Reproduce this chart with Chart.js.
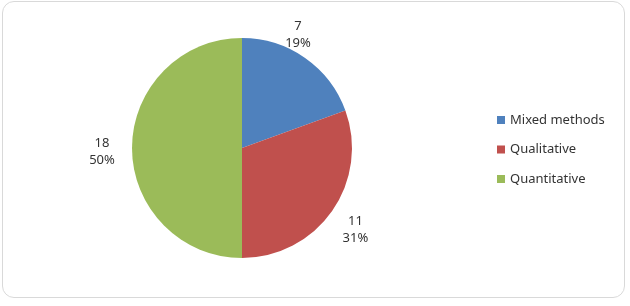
<!DOCTYPE html>
<html>
<head>
<meta charset="utf-8">
<script src="https://cdn.jsdelivr.net/npm/chart.js@4"></script>
<style>
  html, body { margin: 0; padding: 0; background: #fff; }
  #wrap { position: relative; width: 630px; height: 306px; }
  #frame {
    position: absolute; left: 2px; top: 1px; width: 621px; height: 295px;
    border: 1px solid #d9d9d9; border-radius: 12px; pointer-events: none;
  }
  canvas { position: absolute; left: 0; top: 0; }
</style>
</head>
<body>
<div id="wrap">
  <canvas id="chart" width="630" height="306"></canvas>
  <div id="frame"></div>
</div>
<script>
const categories = ['Mixed methods', 'Qualitative', 'Quantitative'];
const counts = [7, 11, 18];
const percents = ['19%', '31%', '50%'];
const colors = ['#4F81BD', '#C0504D', '#9BBB59'];

const FONT = '"Noto Sans", sans-serif';
const TEXT = '#333333';

// value + percent labels outside each slice
const outsideLabels = {
  id: 'outsideLabels',
  afterDatasetsDraw(chart, args, opts) {
    const ctx = chart.ctx;
    const meta = chart.getDatasetMeta(0);
    ctx.save();
    ctx.font = '13px ' + FONT;
    ctx.fillStyle = TEXT;
    ctx.textAlign = 'center';
    ctx.textBaseline = 'middle';
    meta.data.forEach((arc, i) => {
      const mid = (arc.startAngle + arc.endAngle) / 2;
      const d = arc.outerRadius + 26;
      const nudge = opts.nudge[i] || [0, 0];
      const x = arc.x + Math.cos(mid) * d + nudge[0];
      const y = arc.y + Math.sin(mid) * d + nudge[1];
      ctx.fillText(String(counts[i]), x, y - 8.5);
      ctx.fillText(percents[i], x, y + 8.5);
    });
    ctx.restore();
  }
};

// legend on the right, drawn by hand for exact spacing
const sideLegend = {
  id: 'sideLegend',
  afterDraw(chart) {
    const ctx = chart.ctx;
    ctx.save();
    ctx.font = '13px ' + FONT;
    ctx.textBaseline = 'middle';
    ctx.textAlign = 'left';
    categories.forEach((name, i) => {
      const y = 120 + i * 29.5;
      ctx.fillStyle = colors[i];
      ctx.fillRect(497, y - 4, 8, 8);
      ctx.fillStyle = TEXT;
      ctx.fillText(name, 510, y);
    });
    ctx.restore();
  }
};

new Chart(document.getElementById('chart'), {
  type: 'pie',
  data: {
    labels: categories,
    datasets: [{
      data: counts,
      backgroundColor: colors,
      borderWidth: 0
    }]
  },
  options: {
    responsive: false,
    animation: false,
    layout: { padding: { left: 132, right: 278, top: 38, bottom: 48 } },
    plugins: {
      legend: { display: false },
      tooltip: { enabled: false },
      outsideLabels: { nudge: [[-22, -2], [2, 4], [-4, 4]] }
    }
  },
  plugins: [outsideLabels, sideLegend]
});
</script>
</body>
</html>
